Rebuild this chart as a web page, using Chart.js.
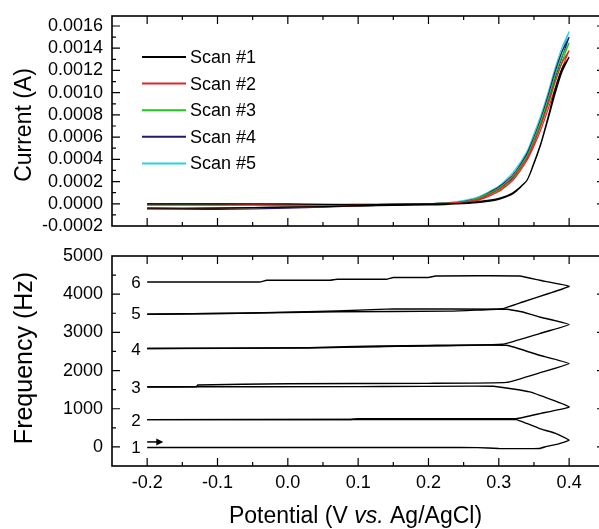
<!DOCTYPE html>
<html>
<head>
<meta charset="utf-8">
<script src="https://cdn.jsdelivr.net/npm/chart.js@4.4.1/dist/chart.umd.min.js"></script>
<style>
  html, body { margin: 0; padding: 0; background: #fff; overflow: hidden; }
  #wrap { position: relative; width: 599px; height: 529px; overflow: hidden; }
  #topChart { position: absolute; left: 0; top: 0; }
  #bottomChart { position: absolute; left: 0; top: 240px; }
</style>
</head>
<body>
<div id="wrap">
  <canvas id="topChart" width="610" height="240"></canvas>
  <canvas id="bottomChart" width="610" height="289"></canvas>
</div>
<script>
// --- tick labels ---
const potentialTicks = [-0.2, -0.1, 0.0, 0.1, 0.2, 0.3, 0.4];
const currentTicks = [-0.0002, 0, 0.0002, 0.0004, 0.0006, 0.0008, 0.0010, 0.0012, 0.0014, 0.0016];
const frequencyTicks = [0, 1000, 2000, 3000, 4000, 5000];

// --- top panel: cyclic voltammograms (V, A) ---
const scanLabels = ["Scan #1", "Scan #2", "Scan #3", "Scan #4", "Scan #5"];
const scanColors = ["#000000", "#e0262b", "#22c322", "#231a6b", "#26d3e0"];
const cvForwardV = [-0.2, -0.1, 0.0, 0.1, 0.2, 0.24, 0.27, 0.30, 0.32, 0.34, 0.35, 0.36, 0.37, 0.38, 0.39, 0.40];
const cvReverseV = [0.40, 0.39, 0.38, 0.37, 0.36, 0.35, 0.34, 0.32, 0.30, 0.27, 0.24, 0.2, 0.1, 0.0, -0.1, -0.2];

const scan1Fwd = [-0.00004, -0.00004, -0.00003, -0.00002, -0.00001, 0.0, 0.00002, 0.00005, 0.0001, 0.00021, 0.00037, 0.00055, 0.00078, 0.00103, 0.00122, 0.00132];
const scan1Rev = [0.00132, 0.00119, 0.00099, 0.00076, 0.00054, 0.00036, 0.00021, 0.00009, 0.00004, 0.00001, 0.0, 0.0, -0.00001, 0.0, 0.0, 0.0];
const scan2Fwd = [-0.00004, -0.00004, -0.00003, -0.00002, 0.0, 0.00001, 0.00004, 0.00013, 0.00024, 0.00041, 0.00055, 0.00071, 0.0009, 0.0011, 0.00127, 0.00138];
const scan2Rev = [0.00138, 0.00122, 0.00104, 0.00085, 0.00067, 0.00052, 0.00039, 0.00021, 0.00011, 0.00003, 0.00001, 0.0, -0.00001, -0.00001, 0.0, 0.0];
const scan3Fwd = [-0.00005, -0.00004, -0.00003, -0.00002, 0.0, 0.00001, 0.00005, 0.00014, 0.00025, 0.00043, 0.00058, 0.00075, 0.00094, 0.00115, 0.00133, 0.00145];
const scan3Rev = [0.00145, 0.00128, 0.00109, 0.00089, 0.00071, 0.00055, 0.00041, 0.00022, 0.00012, 0.00004, 0.00001, 0.0, -0.00001, -0.00001, -0.00001, -0.00001];
const scan4Fwd = [-0.00005, -0.00005, -0.00004, -0.00002, 0.0, 0.00001, 0.00005, 0.00015, 0.00026, 0.00045, 0.0006, 0.00077, 0.00097, 0.00119, 0.00137, 0.0015];
const scan4Rev = [0.0015, 0.00132, 0.00113, 0.00092, 0.00073, 0.00057, 0.00043, 0.00023, 0.00013, 0.00004, 0.00001, 0.0, -0.00001, -0.00001, -0.00001, -0.00001];
const scan5Fwd = [-0.00004, -0.00004, -0.00003, -0.00002, 0.0, 0.00002, 0.00006, 0.00016, 0.00028, 0.00047, 0.00063, 0.0008, 0.001, 0.00122, 0.00141, 0.00155];
const scan5Rev = [0.00155, 0.00137, 0.00117, 0.00095, 0.00076, 0.00059, 0.00045, 0.00025, 0.00014, 0.00005, 0.00002, 0.0, 0.0, -0.00001, -0.00001, 0.0];

// --- bottom panel: frequency response per scan (V, Hz) ---
const qcm1V = [-0.2, 0.1, 0.22, 0.27, 0.3, 0.358, 0.368, 0.385, 0.4, 0.38, 0.358, 0.335, 0.325, 0.3, 0.1, -0.2];
const qcm1Hz = [-15, -15, -15, -20, -40, -40, 15, 80, 175, 360, 480, 650, 715, 718, 718, 715];
const qcm2V = [-0.2, 0.09, 0.1, 0.325, 0.36, 0.4, 0.344, 0.292, 0.1, -0.2];
const qcm2Hz = [715, 718, 742, 742, 880, 1047, 1440, 1589, 1580, 1575];
const qcm3V = [-0.2, -0.13, -0.128, 0.0, 0.2, 0.311, 0.36, 0.4, 0.358, 0.311, 0.2, 0.13, 0.03, -0.2];
const qcm3Hz = [1570, 1572, 1620, 1655, 1665, 1690, 1950, 2183, 2400, 2662, 2660, 2644, 2600, 2576];
const qcm4V = [-0.2, 0.03, 0.13, 0.305, 0.358, 0.4, 0.358, 0.334, 0.311, 0.15, 0.07, -0.07, -0.2];
const qcm4Hz = [2576, 2590, 2625, 2690, 2969, 3204, 3403, 3534, 3605, 3615, 3560, 3500, 3474];
const qcm5V = [-0.2, -0.07, 0.07, 0.23, 0.305, 0.334, 0.372, 0.4, 0.358, 0.33, 0.21, 0.2, 0.15, 0.14, 0.07, 0.06, -0.03, -0.04, -0.2];
const qcm5Hz = [3474, 3500, 3540, 3555, 3620, 3796, 4024, 4207, 4364, 4477, 4477, 4437, 4437, 4392, 4392, 4366, 4366, 4320, 4320];

const loopNumbers = ["1", "2", "3", "4", "5", "6"];
const loopLabelHz = [0, 700, 1570, 2560, 3500, 4310];
const loopLabelV = -0.216;
const arrowV = [-0.2, -0.177];
const arrowHz = 130;

const FONT = '"Liberation Sans", Arial, Helvetica, sans-serif';
Chart.defaults.font.family = FONT;
Chart.defaults.color = "#000";

function toPoints(vs, ys) {
  return vs.map((v, i) => ({ x: v, y: ys[i] }));
}

// box, inward ticks on all four sides, titles, legend / loop labels
const framePlugin = {
  id: "frame",
  afterDatasetsDraw(chart, args, opts) {
    const ctx = chart.ctx, a = chart.chartArea;
    const xs = chart.scales.x, ys = chart.scales.y;
    ctx.save();
    ctx.strokeStyle = "#000";
    ctx.lineWidth = 1.6;
    ctx.strokeRect(a.left, a.top, a.right - a.left, a.bottom - a.top);

    ctx.lineWidth = 1.2;
    const marks = (ticks) => {
      const out = [];
      const step = ticks[1] - ticks[0];
      for (let i = -1; i < ticks.length; i++) {
        const v = ticks[0] + i * step;
        if (i >= 0) out.push([v, 8]);
        out.push([v + step / 2, 4]);
      }
      return out;
    };
    marks(opts.xTicks).forEach(([v, len]) => {
      const px = xs.getPixelForValue(v);
      if (px <= a.left + 1 || px >= a.right - 1) return;
      ctx.beginPath();
      ctx.moveTo(px, a.bottom); ctx.lineTo(px, a.bottom - len);
      ctx.moveTo(px, a.top); ctx.lineTo(px, a.top + len);
      ctx.stroke();
    });
    marks(opts.yTicks).forEach(([v, len]) => {
      const py = ys.getPixelForValue(v);
      if (py <= a.top + 1 || py >= a.bottom - 1) return;
      ctx.beginPath();
      ctx.moveTo(a.left, py); ctx.lineTo(a.left + len, py);
      ctx.moveTo(a.right, py); ctx.lineTo(a.right - len, py);
      ctx.stroke();
    });

    ctx.fillStyle = "#000";
    ctx.textBaseline = "middle";

    // rotated y title
    const yt = opts.yTitle;
    ctx.save();
    ctx.translate(25, (a.top + a.bottom) / 2 + yt.shift);
    ctx.rotate(-Math.PI / 2);
    ctx.textAlign = "center";
    ctx.font = yt.size + "px " + FONT;
    ctx.fillText(yt.text, 0, 0);
    ctx.restore();

    if (opts.legend) {
      const lx = a.left + 30, ly = a.top + 41;
      ctx.font = "18px " + FONT;
      ctx.textAlign = "left";
      chart.data.datasets.forEach((ds, i) => {
        const y = ly + i * 26.6;
        ctx.strokeStyle = ds.borderColor;
        ctx.lineWidth = 2;
        ctx.beginPath(); ctx.moveTo(lx, y); ctx.lineTo(lx + 44, y); ctx.stroke();
        ctx.fillText(ds.label, lx + 48, y + 1);
      });
    }

    if (opts.loops) {
      ctx.font = "17px " + FONT;
      ctx.textAlign = "center";
      loopNumbers.forEach((t, i) => {
        ctx.fillText(t, xs.getPixelForValue(loopLabelV), ys.getPixelForValue(loopLabelHz[i]) + 1);
      });
      // scan direction arrow
      const x0 = xs.getPixelForValue(arrowV[0]), x1 = xs.getPixelForValue(arrowV[1]);
      const y0 = ys.getPixelForValue(arrowHz);
      ctx.strokeStyle = "#000";
      ctx.lineWidth = 1.5;
      ctx.beginPath(); ctx.moveTo(x0, y0); ctx.lineTo(x1 - 4, y0); ctx.stroke();
      ctx.beginPath(); ctx.moveTo(x1, y0); ctx.lineTo(x1 - 7, y0 - 3.5); ctx.lineTo(x1 - 7, y0 + 3.5); ctx.closePath(); ctx.fill();
    }

    if (opts.xTitle) {
      const parts = [["Potential (V ", "normal"], ["vs.", "italic"], [" Ag/AgCl)", "normal"]];
      const widths = parts.map(([t, s]) => { ctx.font = s + " 23px " + FONT; return ctx.measureText(t).width; });
      let x = (a.left + a.right) / 2 - 3 - widths.reduce((p, c) => p + c, 0) / 2;
      ctx.textAlign = "left";
      parts.forEach(([t, s], i) => {
        ctx.font = s + " 23px " + FONT;
        ctx.fillText(t, x, chart.height - 12);
        x += widths[i];
      });
    }
    ctx.restore();
  }
};

function makeOptions(cfg) {
  return {
    responsive: false,
    animation: false,
    devicePixelRatio: 1,
    layout: { padding: { top: 16, right: 5, left: 0, bottom: 0 } },
    plugins: {
      legend: { display: false },
      tooltip: { enabled: false },
      frame: cfg.frame
    },
    scales: {
      x: {
        type: "linear",
        min: -0.25,
        max: 0.451,
        grid: { display: false, drawTicks: false },
        border: { display: false },
        afterBuildTicks: s => { s.ticks = potentialTicks.map(v => ({ value: v })); },
        afterFit: s => { s.height = cfg.xHeight; s.paddingLeft = 0; s.paddingRight = 0; },
        ticks: {
          display: cfg.showX,
          autoSkip: false,
          padding: 6,
          color: "#000",
          font: { size: 18 },
          callback: v => Number(v).toFixed(1)
        }
      },
      y: {
        type: "linear",
        min: cfg.yMin,
        max: cfg.yMax,
        grid: { display: false, drawTicks: false },
        border: { display: false },
        afterBuildTicks: s => { s.ticks = cfg.yTicks.map(v => ({ value: v })); },
        afterFit: s => { s.width = 112; s.paddingTop = 0; s.paddingBottom = 0; },
        ticks: {
          autoSkip: false,
          padding: 9,
          color: "#000",
          font: { size: 18 },
          callback: cfg.yFormat
        }
      }
    }
  };
}

// top chart
const cvSets = [
  [scan1Fwd, scan1Rev], [scan2Fwd, scan2Rev], [scan3Fwd, scan3Rev],
  [scan4Fwd, scan4Rev], [scan5Fwd, scan5Rev]
];
new Chart(document.getElementById("topChart").getContext("2d"), {
  type: "scatter",
  data: {
    datasets: cvSets.map(([f, r], i) => ({
      label: scanLabels[i],
      data: toPoints(cvForwardV, f).concat(toPoints(cvReverseV, r)),
      showLine: true,
      borderColor: scanColors[i],
      borderWidth: 1.2,
      pointRadius: 0,
      tension: 0.2
    }))
  },
  options: makeOptions({
    showX: false,
    xHeight: 14,
    yMin: -0.0002,
    yMax: 0.00169,
    yTicks: currentTicks,
    yFormat: v => Number(v).toFixed(4),
    frame: {
      xTicks: potentialTicks, yTicks: currentTicks, legend: true,
      yTitle: { text: "Current (A)", size: 23, shift: 4 }
    }
  }),
  plugins: [framePlugin]
});

// bottom chart
const qcmSets = [[qcm1V, qcm1Hz], [qcm2V, qcm2Hz], [qcm3V, qcm3Hz], [qcm4V, qcm4Hz], [qcm5V, qcm5Hz]];
new Chart(document.getElementById("bottomChart").getContext("2d"), {
  type: "scatter",
  data: {
    datasets: qcmSets.map(([v, hz], i) => ({
      label: "Scan " + (i + 1),
      data: toPoints(v, hz),
      showLine: true,
      borderColor: "#000",
      borderWidth: 1.4,
      pointRadius: 0,
      tension: 0.1
    }))
  },
  options: makeOptions({
    showX: true,
    xHeight: 63,
    yMin: -500,
    yMax: 5000,
    yTicks: frequencyTicks,
    yFormat: v => String(v),
    frame: {
      xTicks: potentialTicks, yTicks: frequencyTicks, loops: true, xTitle: true,
      yTitle: { text: "Frequency (Hz)", size: 25, shift: -3 }
    }
  }),
  plugins: [framePlugin]
});
</script>
</body>
</html>
